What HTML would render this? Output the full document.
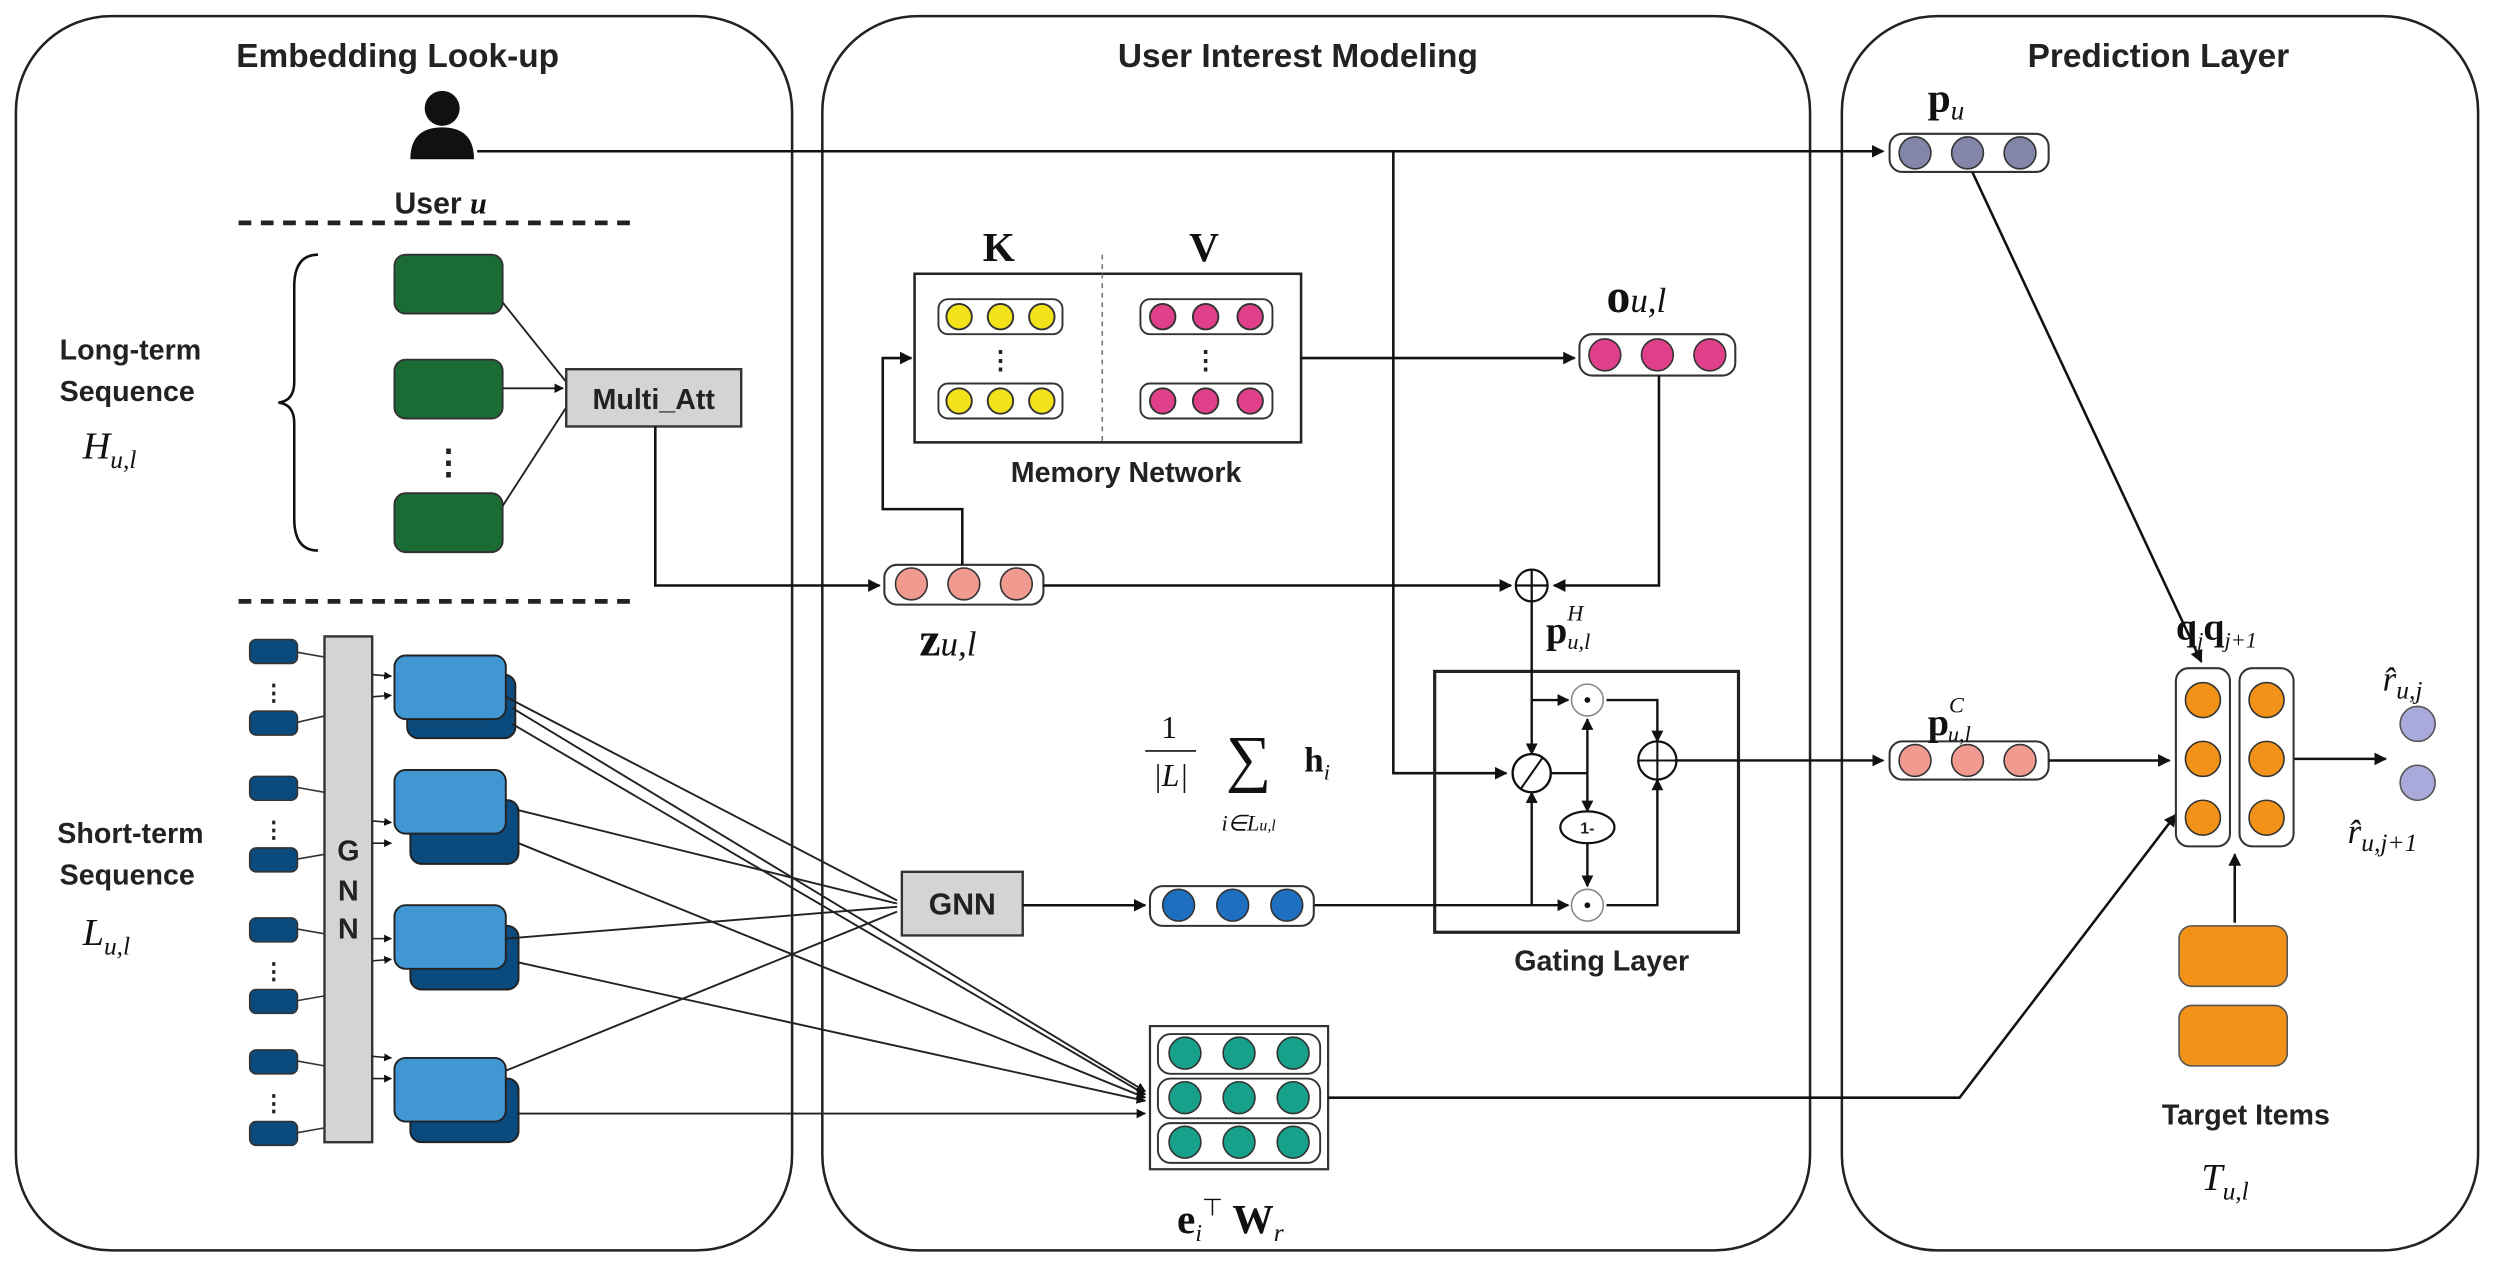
<!DOCTYPE html>
<html><head><meta charset="utf-8"><style>
html,body{margin:0;padding:0;background:#fff}
svg{display:block}
.t{font-family:"Liberation Sans",sans-serif;font-weight:bold;fill:#222}
.m{font-family:"Liberation Serif",serif;fill:#111}
</style></head><body>
<svg width="2494" height="1276" viewBox="0 0 1568 802" xmlns="http://www.w3.org/2000/svg">
<defs>
<marker id="a" viewBox="0 0 10 10" refX="9" refY="5" markerWidth="5" markerHeight="5" orient="auto"><path d="M0,0L10,5L0,10z" fill="#111"/></marker>
</defs>
<g fill="none" stroke="#222" stroke-width="1.6">
<rect x="10" y="10" width="488" height="776" rx="60"/>
<rect x="517" y="10" width="621" height="776" rx="60"/>
<rect x="1158" y="10" width="400" height="776" rx="60"/>
</g>
<text class="t" x="250" y="42" font-size="21" text-anchor="middle">Embedding Look-up</text>
<text class="t" x="816" y="42" font-size="21" text-anchor="middle">User Interest Modeling</text>
<text class="t" x="1357" y="42" font-size="21" text-anchor="middle">Prediction Layer</text>

<!-- user icon -->
<circle cx="278" cy="68" r="11" fill="#111"/>
<path d="M258,100 Q258,80 278,80 Q298,80 298,100z" fill="#111"/>
<text class="t" x="248" y="134" font-size="19">User <tspan class="m" font-style="italic">u</tspan></text>
<g stroke="#111" stroke-width="1.6" fill="none">
<line x1="300" y1="95" x2="1184" y2="95" marker-end="url(#a)"/>
<polyline points="876,95 876,486 947,486" marker-end="url(#a)"/>
</g>
<g stroke="#222" stroke-width="3" stroke-dasharray="8,6">
<line x1="150" y1="140" x2="402" y2="140"/><line x1="150" y1="378" x2="402" y2="378"/>
</g>
<!-- left labels -->
<text class="t" x="82" y="226" font-size="18" text-anchor="middle">Long-term</text>
<text class="t" x="80" y="252" font-size="18" text-anchor="middle">Sequence</text>
<text class="m" x="52" y="288" font-size="24" font-style="italic">H<tspan font-size="16" dy="6">u,l</tspan></text>
<text class="t" x="82" y="530" font-size="18" text-anchor="middle">Short-term</text>
<text class="t" x="80" y="556" font-size="18" text-anchor="middle">Sequence</text>
<text class="m" x="52" y="594" font-size="24" font-style="italic">L<tspan font-size="16" dy="6">u,l</tspan></text>
<path d="M200,160 Q185,160 185,180 L185,240 Q185,252 175,253 Q185,254 185,266 L185,326 Q185,346 200,346" fill="none" stroke="#111" stroke-width="1.6"/>
<!-- green boxes -->
<g fill="#1b6b35" stroke="#333" stroke-width="1.2">
<rect x="248" y="160" width="68" height="37" rx="7"/>
<rect x="248" y="226" width="68" height="37" rx="7"/>
<rect x="248" y="310" width="68" height="37" rx="7"/>
</g>
<text x="282" y="298" font-size="22" text-anchor="middle" class="t">⋮</text>
<g stroke="#222" stroke-width="1.2" fill="none">
<line x1="316" y1="190" x2="356" y2="240"/>
<line x1="316" y1="244" x2="354" y2="244" marker-end="url(#a)"/>
<line x1="316" y1="318" x2="356" y2="256"/>
</g>
<rect x="356" y="232" width="110" height="36" fill="#d4d4d4" stroke="#333" stroke-width="1.5"/>
<text class="t" x="411" y="257" font-size="18" text-anchor="middle" font-weight="normal">Multi_Att</text>
<polyline points="412,268 412,368 553,368" fill="none" stroke="#111" stroke-width="1.6" marker-end="url(#a)"/>

<!-- memory network -->
<rect x="575" y="172" width="243" height="106" fill="#fff" stroke="#222" stroke-width="1.6"/>
<line x1="693" y1="160" x2="693" y2="280" stroke="#777" stroke-dasharray="3,3"/>
<text class="m" x="628" y="164" font-size="26" font-weight="bold" text-anchor="middle">K</text>
<text class="m" x="757" y="164" font-size="26" font-weight="bold" text-anchor="middle">V</text>
<g stroke="#333" stroke-width="1.2">
<rect x="590" y="188" width="78" height="22" rx="6" fill="#fff"/>
<rect x="590" y="241" width="78" height="22" rx="6" fill="#fff"/>
<rect x="717" y="188" width="83" height="22" rx="6" fill="#fff"/>
<rect x="717" y="241" width="83" height="22" rx="6" fill="#fff"/>
<g fill="#f2e21a"><circle cx="603" cy="199" r="8"/><circle cx="629" cy="199" r="8"/><circle cx="655" cy="199" r="8"/><circle cx="603" cy="252" r="8"/><circle cx="629" cy="252" r="8"/><circle cx="655" cy="252" r="8"/></g>
<g fill="#e0408a"><circle cx="731" cy="199" r="8"/><circle cx="758" cy="199" r="8"/><circle cx="786" cy="199" r="8"/><circle cx="731" cy="252" r="8"/><circle cx="758" cy="252" r="8"/><circle cx="786" cy="252" r="8"/></g>
</g>
<text x="629" y="232" font-size="16" text-anchor="middle" class="t">⋮</text>
<text x="758" y="232" font-size="16" text-anchor="middle" class="t">⋮</text>
<text class="t" x="708" y="303" font-size="18" text-anchor="middle">Memory Network</text>
<line x1="818" y1="225" x2="990" y2="225" stroke="#111" stroke-width="1.6" marker-end="url(#a)"/>
<rect x="993" y="210" width="98" height="26" rx="8" fill="#fff" stroke="#333" stroke-width="1.3"/>
<g fill="#e0408a" stroke="#333"><circle cx="1009" cy="223" r="10"/><circle cx="1042" cy="223" r="10"/><circle cx="1075" cy="223" r="10"/></g>
<text class="m" x="1010" y="196" font-size="30" font-weight="bold">o<tspan font-size="22" font-weight="normal" font-style="italic">u,l</tspan></text>

<!-- z vector -->
<rect x="556" y="355" width="100" height="25" rx="8" fill="#fff" stroke="#333" stroke-width="1.3"/>
<g fill="#f19a8f" stroke="#333"><circle cx="573" cy="367" r="10"/><circle cx="606" cy="367" r="10"/><circle cx="639" cy="367" r="10"/></g>
<text class="m" x="578" y="412" font-size="30" font-weight="bold">z<tspan font-size="22" font-weight="normal" font-style="italic">u,l</tspan></text>
<g stroke="#111" stroke-width="1.6" fill="none">
<polyline points="605,355 605,320 555,320 555,225 573,225" marker-end="url(#a)"/>
<line x1="656" y1="368" x2="950" y2="368" marker-end="url(#a)"/>
<polyline points="1043,236 1043,368 977,368" marker-end="url(#a)"/>
</g>
<circle cx="963" cy="368" r="10" fill="#fff" stroke="#111" stroke-width="1.4"/>
<path d="M953,368h20M963,358v20" stroke="#111" stroke-width="1.4"/>
<text class="m" x="972" y="404" font-size="24" font-weight="bold">p<tspan font-size="14" font-style="italic" font-weight="normal" dy="-14">H</tspan><tspan font-size="14" font-style="italic" font-weight="normal" dx="-10" dy="18">u,l</tspan></text>

<!-- gating -->
<rect x="902" y="422" width="191" height="164" fill="none" stroke="#222" stroke-width="2"/>
<text class="t" x="1007" y="610" font-size="18" text-anchor="middle">Gating Layer</text>
<g stroke="#111" stroke-width="1.5" fill="none">
<line x1="963" y1="378" x2="963" y2="474" marker-end="url(#a)"/>
<polyline points="963,440 986,440" marker-end="url(#a)"/>
<polyline points="826,569 986,569" marker-end="url(#a)"/>
<line x1="963" y1="569" x2="963" y2="498" marker-end="url(#a)"/>
<polyline points="975,486 998,486"/>
<line x1="998" y1="486" x2="998" y2="452" marker-end="url(#a)"/>
<line x1="998" y1="486" x2="998" y2="510" marker-end="url(#a)"/>
<line x1="998" y1="530" x2="998" y2="557" marker-end="url(#a)"/>
<polyline points="1010,440 1042,440 1042,466" marker-end="url(#a)"/>
<polyline points="1010,569 1042,569 1042,490" marker-end="url(#a)"/>
<line x1="1054" y1="478" x2="1184" y2="478" marker-end="url(#a)"/>
</g>
<circle cx="963" cy="486" r="12" fill="#fff" stroke="#111" stroke-width="1.5"/>
<line x1="956" y1="496" x2="970" y2="476" stroke="#111" stroke-width="1.3"/>
<circle cx="998" cy="440" r="10" fill="#fff" stroke="#888" stroke-width="1"/><circle cx="998" cy="440" r="1.8" fill="#111"/>
<circle cx="998" cy="569" r="10" fill="#fff" stroke="#888" stroke-width="1"/><circle cx="998" cy="569" r="1.8" fill="#111"/>
<ellipse cx="998" cy="520" rx="17" ry="10" fill="#fff" stroke="#111" stroke-width="1.4"/>
<text class="t" x="998" y="524" font-size="10" text-anchor="middle">1-</text>
<circle cx="1042" cy="478" r="12" fill="#fff" stroke="#111" stroke-width="1.4"/>
<path d="M1030,478h24M1042,466v24" stroke="#111" stroke-width="1.3"/>

<!-- sum formula -->
<text class="m" x="735" y="464" font-size="20" text-anchor="middle">1</text>
<line x1="720" y1="472" x2="752" y2="472" stroke="#111"/>
<text class="m" x="736" y="494" font-size="20" text-anchor="middle" font-style="italic">|L|</text>
<text class="m" x="785" y="490" font-size="40" text-anchor="middle">∑</text>
<text class="m" x="785" y="522" font-size="14" text-anchor="middle" font-style="italic">i∈L<tspan font-size="10">u,l</tspan></text>
<text class="m" x="820" y="485" font-size="22" font-weight="bold">h<tspan font-size="14" font-style="italic" font-weight="normal" dy="5">i</tspan></text>
<rect x="723" y="557" width="103" height="25" rx="8" fill="#fff" stroke="#333" stroke-width="1.3"/>
<g fill="#1f6fc0" stroke="#333"><circle cx="741" cy="569" r="10"/><circle cx="775" cy="569" r="10"/><circle cx="809" cy="569" r="10"/></g>

<!-- GNN box -->
<rect x="567" y="548" width="76" height="40" fill="#d4d4d4" stroke="#333" stroke-width="1.5"/>
<text class="t" x="605" y="575" font-size="19" text-anchor="middle" font-weight="normal">GNN</text>
<line x1="643" y1="569" x2="720" y2="569" stroke="#111" stroke-width="1.6" marker-end="url(#a)"/>

<!-- eW -->
<rect x="723" y="645" width="112" height="90" fill="#fff" stroke="#333" stroke-width="1.4"/>
<g stroke="#333" stroke-width="1.2" fill="#fff">
<rect x="728" y="650" width="102" height="25" rx="8"/><rect x="728" y="678" width="102" height="25" rx="8"/><rect x="728" y="706" width="102" height="25" rx="8"/>
</g>
<g fill="#17a08a" stroke="#333">
<circle cx="745" cy="662" r="10"/><circle cx="779" cy="662" r="10"/><circle cx="813" cy="662" r="10"/>
<circle cx="745" cy="690" r="10"/><circle cx="779" cy="690" r="10"/><circle cx="813" cy="690" r="10"/>
<circle cx="745" cy="718" r="10"/><circle cx="779" cy="718" r="10"/><circle cx="813" cy="718" r="10"/>
</g>
<text class="m" x="740" y="775" font-size="26" font-weight="bold">e<tspan font-size="15" font-weight="normal" font-style="italic" dy="5">i</tspan><tspan font-size="15" font-weight="normal" dy="-16">⊤</tspan><tspan dy="11"> W</tspan><tspan font-size="16" font-weight="normal" font-style="italic" dy="5">r</tspan></text>
<polyline points="835,690 1232,690 1368,512" fill="none" stroke="#111" stroke-width="1.6" marker-end="url(#a)"/>

<!-- short-term -->
<g fill="#0b4a7c" stroke="#333" stroke-width="1">
<rect x="157" y="402" width="30" height="15" rx="4"/><rect x="157" y="447" width="30" height="15" rx="4"/>
<rect x="157" y="488" width="30" height="15" rx="4"/><rect x="157" y="533" width="30" height="15" rx="4"/>
<rect x="157" y="577" width="30" height="15" rx="4"/><rect x="157" y="622" width="30" height="15" rx="4"/>
<rect x="157" y="660" width="30" height="15" rx="4"/><rect x="157" y="705" width="30" height="15" rx="4"/>
</g>
<g class="t" font-size="14" text-anchor="middle"><text x="172" y="440">⋮</text><text x="172" y="526">⋮</text><text x="172" y="615">⋮</text><text x="172" y="698">⋮</text></g>
<g stroke="#333" stroke-width="1">
<line x1="187" y1="410" x2="204" y2="413"/><line x1="187" y1="454" x2="204" y2="450"/>
<line x1="187" y1="495" x2="204" y2="498"/><line x1="187" y1="540" x2="204" y2="537"/>
<line x1="187" y1="584" x2="204" y2="587"/><line x1="187" y1="629" x2="204" y2="626"/>
<line x1="187" y1="667" x2="204" y2="670"/><line x1="187" y1="712" x2="204" y2="709"/>
</g>
<rect x="204" y="400" width="30" height="318" fill="#d4d4d6" stroke="#333" stroke-width="1.5"/>
<text class="t" x="219" y="541" font-size="18" text-anchor="middle">G</text>
<text class="t" x="219" y="566" font-size="18" text-anchor="middle">N</text>
<text class="t" x="219" y="590" font-size="18" text-anchor="middle">N</text>
<g stroke="#222" stroke-width="1" marker-end="url(#a)">
<line x1="234" y1="424" x2="246" y2="425"/><line x1="234" y1="438" x2="246" y2="437"/>
<line x1="234" y1="516" x2="246" y2="517"/><line x1="234" y1="530" x2="246" y2="530"/>
<line x1="234" y1="590" x2="246" y2="590"/><line x1="234" y1="604" x2="246" y2="603"/>
<line x1="234" y1="664" x2="246" y2="665"/><line x1="234" y1="678" x2="246" y2="678"/>
</g>
<g stroke="#222" stroke-width="1.2">
<rect x="256" y="424" width="68" height="40" rx="7" fill="#0b4a7c"/><rect x="248" y="412" width="70" height="40" rx="7" fill="#4197d2"/>
<rect x="258" y="503" width="68" height="40" rx="7" fill="#0b4a7c"/><rect x="248" y="484" width="70" height="40" rx="7" fill="#4197d2"/>
<rect x="258" y="582" width="68" height="40" rx="7" fill="#0b4a7c"/><rect x="248" y="569" width="70" height="40" rx="7" fill="#4197d2"/>
<rect x="258" y="678" width="68" height="40" rx="7" fill="#0b4a7c"/><rect x="248" y="665" width="70" height="40" rx="7" fill="#4197d2"/>
</g>
<g stroke="#222" stroke-width="1.2" fill="none">
<line x1="318" y1="438" x2="564" y2="566"/><line x1="322" y1="455" x2="720" y2="688" marker-end="url(#a)"/>
<line x1="325" y1="509" x2="564" y2="568"/><line x1="326" y1="530" x2="720" y2="690" marker-end="url(#a)"/>
<line x1="318" y1="590" x2="564" y2="570"/><line x1="326" y1="605" x2="720" y2="692" marker-end="url(#a)"/>
<line x1="318" y1="673" x2="564" y2="573"/><line x1="326" y1="700" x2="720" y2="700" marker-end="url(#a)"/>
<line x1="322" y1="445" x2="720" y2="686" marker-end="url(#a)"/>
</g>

<!-- prediction -->
<rect x="1188" y="84" width="100" height="24" rx="8" fill="#fff" stroke="#333" stroke-width="1.3"/>
<g fill="#8386a8" stroke="#333"><circle cx="1204" cy="96" r="10"/><circle cx="1237" cy="96" r="10"/><circle cx="1270" cy="96" r="10"/></g>
<text class="m" x="1212" y="70" font-size="26" font-weight="bold">p<tspan font-size="17" font-style="italic" font-weight="normal" dy="5">u</tspan></text>
<rect x="1188" y="466" width="100" height="24" rx="8" fill="#fff" stroke="#333" stroke-width="1.3"/>
<g fill="#f19a8f" stroke="#333"><circle cx="1204" cy="478" r="10"/><circle cx="1237" cy="478" r="10"/><circle cx="1270" cy="478" r="10"/></g>
<text class="m" x="1212" y="462" font-size="24" font-weight="bold">p<tspan font-size="14" font-style="italic" font-weight="normal" dy="-14">C</tspan><tspan font-size="14" font-style="italic" font-weight="normal" dx="-10" dy="18">u,l</tspan></text>
<g stroke="#111" stroke-width="1.6" fill="none">
<line x1="1240" y1="108" x2="1384" y2="416" marker-end="url(#a)"/>
<line x1="1288" y1="478" x2="1364" y2="478" marker-end="url(#a)"/>
<line x1="1442" y1="477" x2="1500" y2="477" marker-end="url(#a)"/>
<line x1="1405" y1="580" x2="1405" y2="537" marker-end="url(#a)"/>
</g>
<g stroke="#333" stroke-width="1.3" fill="#fff">
<rect x="1368" y="420" width="34" height="112" rx="8"/><rect x="1408" y="420" width="34" height="112" rx="8"/>
</g>
<g fill="#f29219" stroke="#333">
<circle cx="1385" cy="440" r="11"/><circle cx="1385" cy="477" r="11"/><circle cx="1385" cy="514" r="11"/>
<circle cx="1425" cy="440" r="11"/><circle cx="1425" cy="477" r="11"/><circle cx="1425" cy="514" r="11"/>
</g>
<text class="m" x="1368" y="402" font-size="24" font-weight="bold">q<tspan font-size="14" font-style="italic" font-weight="normal" dy="5">j</tspan><tspan dy="-5">q</tspan><tspan font-size="14" font-style="italic" font-weight="normal" dy="5">j+1</tspan></text>
<circle cx="1520" cy="455" r="11" fill="#a9a9dc" stroke="#555"/>
<circle cx="1520" cy="492" r="11" fill="#a9a9dc" stroke="#555"/>
<text class="m" x="1498" y="434" font-size="22" font-style="italic">r̂<tspan font-size="16" dy="5">u,j</tspan></text>
<text class="m" x="1476" y="530" font-size="22" font-style="italic">r̂<tspan font-size="16" dy="5">u,j+1</tspan></text>
<rect x="1370" y="582" width="68" height="38" rx="8" fill="#f29219" stroke="#555"/>
<rect x="1370" y="632" width="68" height="38" rx="8" fill="#f29219" stroke="#555"/>
<text class="t" x="1412" y="707" font-size="18" text-anchor="middle">Target Items</text>
<text class="m" x="1384" y="748" font-size="24" font-style="italic">T<tspan font-size="16" dy="6">u,l</tspan></text>
</svg>
</body></html>
